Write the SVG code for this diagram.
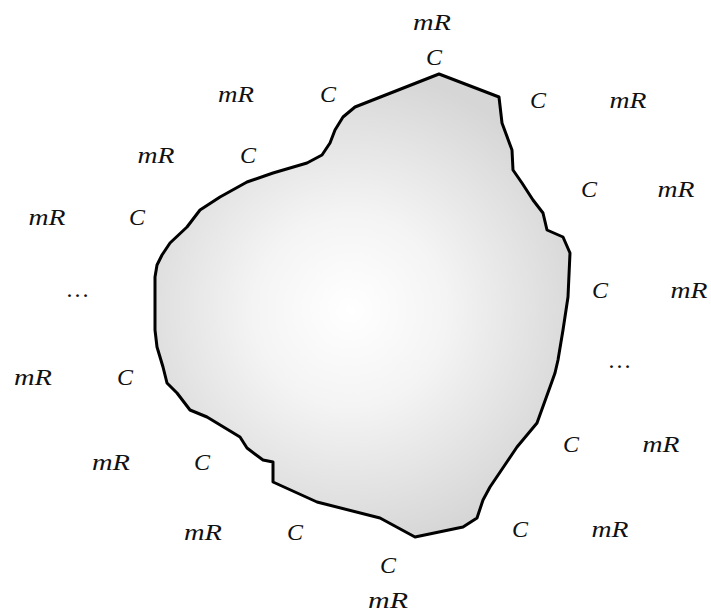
<svg xmlns="http://www.w3.org/2000/svg" width="711" height="613" viewBox="0 0 711 613">
<defs>
<radialGradient id="g" cx="350" cy="310" r="240" gradientUnits="userSpaceOnUse">
<stop offset="0" stop-color="#ffffff"/>
<stop offset="0.4" stop-color="#f4f4f4"/>
<stop offset="1" stop-color="#d6d6d6"/>
</radialGradient>
<style>
.s{fill:url(#g);stroke:#000;stroke-width:3;stroke-linejoin:round}
</style>
</defs>
<rect width="711" height="613" fill="#fff"/>
<g id="body">
<path class="s" d="M439,74 L499,97 L502,123 L512,150 L513,170 L522,183 L533,200 L543,213 L547,230 L563,237 L570,253 L568,297 L563,330 L558,360 L555,373 L550,387 L537,423 L517,447 L490,487 L483,500 L477,518 L463,527 L415,537 L380,518 L317,502 L273,482 L273,462 L263,460 L247,448 L240,437 L207,417 L190,410 L177,393 L167,383 L163,367 L157,347 L155,330 L155,277 L157,265 L162,255 L170,243 L187,227 L200,210 L220,197 L247,182 L273,173 L307,163 L322,155 L330,143 L335,130 L343,117 L355,107 Z"/>
</g>
<g id="labels" font-family="'Times New Roman', 'Liberation Serif', 'DejaVu Serif', serif" font-style="italic" font-size="24" fill="#111" text-anchor="middle">
<text x="432" y="30" textLength="38" lengthAdjust="spacingAndGlyphs">mR</text>
<text x="434" y="65">C</text>
<text x="236" y="102" textLength="36" lengthAdjust="spacingAndGlyphs">mR</text>
<text x="328" y="102">C</text>
<text x="538" y="108">C</text>
<text x="628" y="108" textLength="37" lengthAdjust="spacingAndGlyphs">mR</text>
<text x="156" y="163" textLength="37" lengthAdjust="spacingAndGlyphs">mR</text>
<text x="248" y="163">C</text>
<text x="589" y="197">C</text>
<text x="676" y="197" textLength="37" lengthAdjust="spacingAndGlyphs">mR</text>
<text x="47" y="225" textLength="37" lengthAdjust="spacingAndGlyphs">mR</text>
<text x="137" y="225">C</text>
<text x="78" y="297">…</text>
<text x="600" y="298">C</text>
<text x="689" y="298" textLength="37" lengthAdjust="spacingAndGlyphs">mR</text>
<text x="620" y="368">…</text>
<text x="33" y="385" textLength="38" lengthAdjust="spacingAndGlyphs">mR</text>
<text x="125" y="385">C</text>
<text x="111" y="470" textLength="38" lengthAdjust="spacingAndGlyphs">mR</text>
<text x="202" y="470">C</text>
<text x="571" y="452">C</text>
<text x="661" y="452" textLength="37" lengthAdjust="spacingAndGlyphs">mR</text>
<text x="203" y="540" textLength="38" lengthAdjust="spacingAndGlyphs">mR</text>
<text x="295" y="540">C</text>
<text x="520" y="537">C</text>
<text x="610" y="537" textLength="37" lengthAdjust="spacingAndGlyphs">mR</text>
<text x="388" y="573">C</text>
<text x="388" y="608" textLength="40" lengthAdjust="spacingAndGlyphs">mR</text>
</g>
</svg>
